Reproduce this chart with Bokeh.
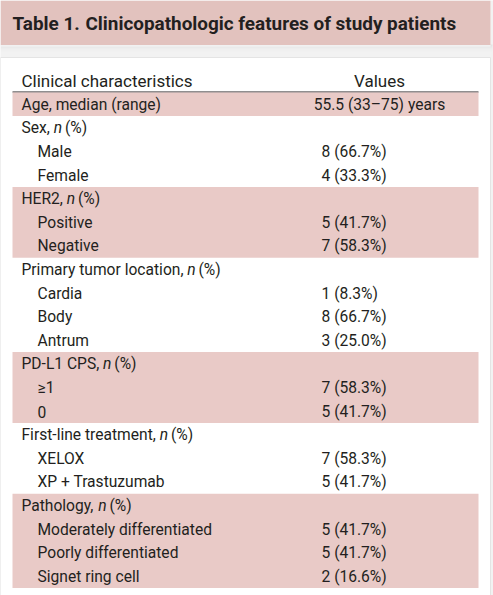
from bokeh.plotting import figure
from bokeh.models import Range1d, ColumnDataSource
from bokeh.core.properties import value
from bokeh.embed import file_html
from bokeh.resources import INLINE

# ---------------- data ----------------
title_label = "Table 1."
title_text = "Clinicopathologic features of study patients"
header_left = "Clinical characteristics"
header_right = "Values"

row_labels = [
    "Age, median (range)",
    "Sex, n (%)", "Male", "Female",
    "HER2, n (%)", "Positive", "Negative",
    "Primary tumor location, n (%)", "Cardia", "Body", "Antrum",
    "PD-L1 CPS, n (%)", "≥1", "0",
    "First-line treatment, n (%)", "XELOX", "XP + Trastuzumab",
    "Pathology, n (%)", "Moderately differentiated", "Poorly differentiated", "Signet ring cell",
]
row_values = [
    "55.5 (33–75) years",
    "", "8 (66.7%)", "4 (33.3%)",
    "", "5 (41.7%)", "7 (58.3%)",
    "", "1 (8.3%)", "8 (66.7%)", "3 (25.0%)",
    "", "7 (58.3%)", "5 (41.7%)",
    "", "7 (58.3%)", "5 (41.7%)",
    "", "5 (41.7%)", "5 (41.7%)", "2 (16.6%)",
]
row_level = [0, 0, 1, 1, 0, 1, 1, 0, 1, 1, 1, 0, 1, 1, 0, 1, 1, 0, 1, 1, 1]
row_group = [0, 1, 1, 1, 2, 2, 2, 3, 3, 3, 3, 4, 4, 4, 5, 5, 5, 6, 6, 6, 6]

# ---------------- layout / style ----------------
FONT = "Roboto"
TXT = "#231f20"
BAND = "#e9cac7"
TITLE_BAND = "#e2c2be"
PAGE_BG = "#f2f2f2"
ROW0 = 92.0
ROWH = 23.6
X_L, X_R = 12, 478
X_LABEL, X_INDENT = 21, 37
X_VAL = 321
X_VCENTER = 379
FS = 15.6
FS_HEAD = 17
PW, PH = 493, 595

# approximate Roboto advance widths (em) for measuring label heads
W = {' ': .248, ',': .197, '-': .276, '1': .562, '2': .562, 'C': .652, 'D': .655,
     'E': .568, 'F': .553, 'H': .713, 'L': .538, 'P': .631, 'R': .616, 'S': .593,
     'a': .544, 'c': .523, 'e': .529, 'g': .560, 'h': .551, 'i': .243, 'l': .243,
     'm': .876, 'n': .552, 'o': .570, 'r': .339, 's': .516, 't': .327, 'u': .551,
     'x': .496, 'y': .473}


def width(s, fs):
    return sum(W.get(c, .55) for c in s) * fs


p = figure(width=PW, height=PH, output_backend="svg", toolbar_location=None,
           x_range=Range1d(0, PW), y_range=Range1d(PH, 0),
           min_border=0, outline_line_color=None, background_fill_color=PAGE_BG,
           border_fill_color=PAGE_BG)
p.axis.visible = False
p.grid.visible = False

# white table panel
p.quad(left=[0], right=[490], top=[57], bottom=[PH], fill_color="white",
       line_color="#e4e4e4", line_width=1)
p.quad(left=[0], right=[490], top=[0], bottom=[46], fill_color="white", line_color=None)

# title band with soft shadow
for k, a in enumerate([0.12, 0.09, 0.07, 0.05, 0.035, 0.02, 0.01]):
    p.quad(left=[0], right=[492], top=[44 + k], bottom=[45 + k], fill_color="#707070",
           fill_alpha=a, line_color=None)
p.quad(left=[0], right=[490], top=[0], bottom=[44.5], fill_color=TITLE_BAND, line_color=None)
p.text(x=[12], y=[22.5], text=[title_label], text_font=value(FONT), text_font_style="bold",
       text_font_size="18.9px", text_color=TXT, text_baseline="middle", text_align="left")
p.text(x=[85], y=[22.5], text=[title_text], text_font=value(FONT), text_font_style="bold",
       text_font_size="18.9px", text_color=TXT, text_baseline="middle", text_align="left")

# header
p.text(x=[X_LABEL], y=[80.5], text=[header_left], text_font=value(FONT),
       text_font_size=f"{FS_HEAD}px", text_color=TXT, text_baseline="middle")
p.text(x=[X_VCENTER], y=[80.5], text=[header_right], text_font=value(FONT),
       text_font_size=f"{FS_HEAD}px", text_color=TXT, text_baseline="middle", text_align="center")
p.segment(x0=[X_L], x1=[X_R], y0=[91.5], y1=[91.5], line_color=TXT, line_width=1.2)

# shaded bands for even groups
n = len(row_labels)
band_top, band_bot = [], []
for g in sorted(set(row_group)):
    if g % 2 == 0:
        idx = [i for i in range(n) if row_group[i] == g]
        band_top.append(ROW0 + min(idx) * ROWH)
        band_bot.append(ROW0 + (max(idx) + 1) * ROWH)
p.quad(left=X_L, right=X_R, top=band_top, bottom=band_bot, fill_color=BAND, line_color=None)

# labels (italic n split out)
ys = [ROW0 + (i + 0.5) * ROWH + 0.5 for i in range(n)]
plain_x, plain_y, plain_t = [], [], []
ital_x, ital_y, ital_t = [], [], []
for i, lab in enumerate(row_labels):
    x0 = X_INDENT if row_level[i] else X_LABEL
    if ", n (%)" in lab:
        head = lab.split(", n (%)")[0] + ","
        plain_x.append(x0); plain_y.append(ys[i]); plain_t.append(head)
        xn = x0 + width(head + " ", FS)
        ital_x.append(xn); ital_y.append(ys[i]); ital_t.append("n")
        plain_x.append(xn + 0.72 * FS); plain_y.append(ys[i]); plain_t.append("(%)")
    else:
        plain_x.append(x0); plain_y.append(ys[i]); plain_t.append(lab)

p.text(x=plain_x, y=plain_y, text=plain_t, text_font=value(FONT), text_font_size=f"{FS}px",
       text_color=TXT, text_baseline="middle", text_align="left")
p.text(x=ital_x, y=ital_y, text=ital_t, text_font=value(FONT), text_font_size=f"{FS}px",
       text_font_style="italic", text_color=TXT, text_baseline="middle", text_align="left")

# values
vl = ColumnDataSource(dict(x=[X_VAL] * (n - 1), y=ys[1:], t=row_values[1:]))
p.text(x="x", y="y", text="t", source=vl, text_font=value(FONT), text_font_size=f"{FS}px",
       text_color=TXT, text_baseline="middle", text_align="left")
p.text(x=[X_VCENTER], y=[ys[0]], text=[row_values[0]], text_font=value(FONT),
       text_font_size=f"{FS}px", text_color=TXT, text_baseline="middle", text_align="center")

open("out.html", "w").write(file_html(p, INLINE))
